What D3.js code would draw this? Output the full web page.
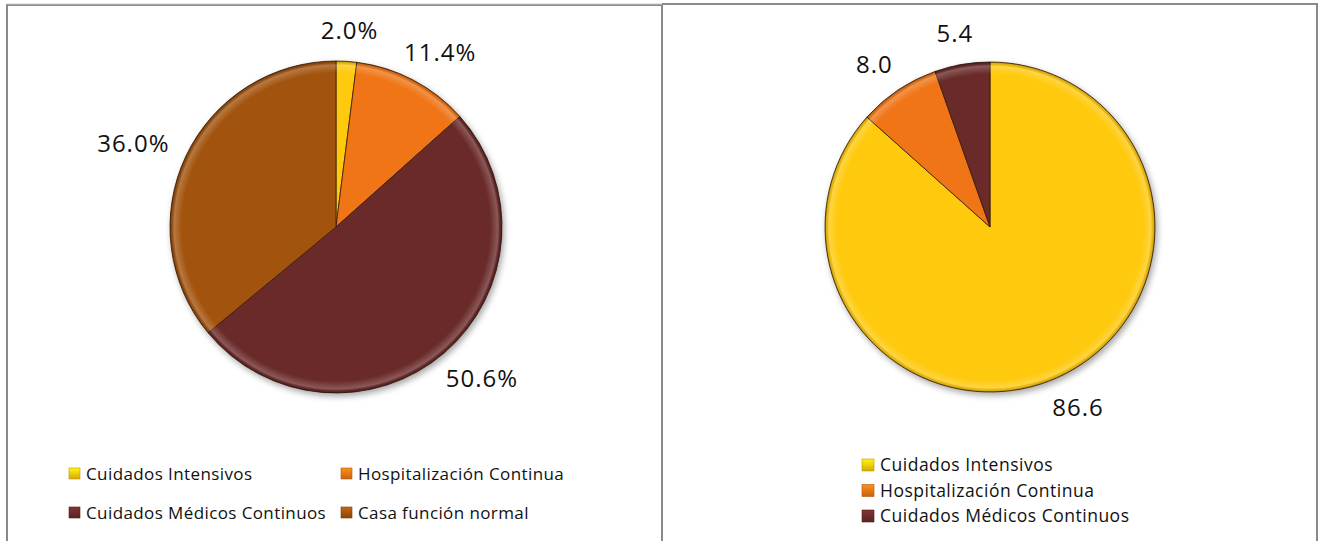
<!DOCTYPE html>
<html><head><meta charset="utf-8">
<script src="https://cdn.jsdelivr.net/npm/d3@7"></script>
<style>body{margin:0;background:#fff;}svg{display:block;}</style>
</head><body>
<svg id="c" width="1324" height="541"></svg>
<script>
const leftCategories = ["Cuidados Intensivos","Hospitalización Continua","Cuidados Médicos Continuos","Casa función normal"];
const leftValues = [2.0, 11.4, 50.6, 36.0];
const leftLabels = ["2.0%","11.4%","50.6%","36.0%"];
const rightCategories = ["Cuidados Intensivos","Hospitalización Continua","Cuidados Médicos Continuos"];
const rightValues = [86.6, 8.0, 5.4];
const rightLabels = ["86.6","8.0","5.4"];
const colorMap = {"Cuidados Intensivos":"#FFC908","Hospitalización Continua":"#EF7512","Cuidados Médicos Continuos":"#6A2A2A","Casa función normal":"#A2520D"};

const svg = d3.select("#c");
const defs = svg.append("defs");
const sh = defs.append("filter").attr("id","sh").attr("x","-20%").attr("y","-20%").attr("width","140%").attr("height","140%");
sh.append("feDropShadow").attr("dx",2).attr("dy",3).attr("stdDeviation",3).attr("flood-color","#000").attr("flood-opacity",0.35);

// panel borders
svg.append("path").attr("d","M7,541 V5 H662 V541").attr("fill","none").attr("stroke","#8a8a8a").attr("stroke-width",2);
svg.append("path").attr("d","M662,4 H1317 V541").attr("fill","none").attr("stroke","#8a8a8a").attr("stroke-width",2);
svg.append("line").attr("x1",7).attr("x2",662).attr("y1",4).attr("y2",4).attr("stroke","#c8c8c8").attr("stroke-width",1);

function drawPie(id, cx, cy, R, cats, vals, labels){
  const g = svg.append("g").attr("transform",`translate(${cx},${cy})`);
  const pie = d3.pie().sort(null).value(d=>d.v);
  const data = pie(cats.map((c,i)=>({c, v:vals[i], l:labels[i]})));
  const arc = d3.arc().innerRadius(0).outerRadius(R);
  const grad = defs.append("radialGradient").attr("id","bev"+id).attr("gradientUnits","userSpaceOnUse")
    .attr("cx",0).attr("cy",0).attr("r",R);
  grad.append("stop").attr("offset",((R-12)/R)).attr("stop-color","#fff").attr("stop-opacity",0);
  grad.append("stop").attr("offset",((R-4)/R)).attr("stop-color","#fff").attr("stop-opacity",0.22);
  grad.append("stop").attr("offset",((R-1.5)/R)).attr("stop-color","#000").attr("stop-opacity",0.12);
  grad.append("stop").attr("offset",1).attr("stop-color","#000").attr("stop-opacity",0.35);
  const sg = g.append("g").attr("filter","url(#sh)");
  sg.selectAll("path.s").data(data).join("path").attr("class","s")
    .attr("d",arc).attr("fill",d=>colorMap[d.data.c])
    .attr("stroke","#3b1d08").attr("stroke-width",0.8).attr("stroke-linejoin","round");
  const ring = d3.arc().innerRadius(R-12).outerRadius(R);
  g.selectAll("path.b").data(data).join("path").attr("class","b")
    .attr("d",ring).attr("fill",`url(#bev${id})`).attr("pointer-events","none");
  // labels outside end
  const gap = 20;
  g.selectAll("text").data(data).join("text")
    .attr("font-family","'Open Sans', sans-serif").attr("font-size",24).attr("fill","#111")
    .attr("letter-spacing",1)
    .attr("text-anchor","middle").attr("dominant-baseline","central")
    .each(function(d){
      const a = (d.startAngle+d.endAngle)/2;
      const s = Math.sin(a), c = Math.cos(a);
      const w = d.data.l.length*7.6, h = 12;
      const x = (R+gap)*s + w*s, y = -(R+gap)*c - h*c;
      d3.select(this).attr("x",x).attr("y",y).text(d.data.l);
    });
}
drawPie("L", 336, 227, 166, leftCategories, leftValues, leftLabels);
drawPie("R", 990, 227, 165, rightCategories, rightValues, rightLabels);

let gid = 0;
function sq(g, x, y, s, col){
  const id = "lg"+(gid++);
  const gr = defs.append("linearGradient").attr("id",id).attr("x1",0).attr("y1",0).attr("x2",0).attr("y2",1);
  gr.append("stop").attr("offset",0).attr("stop-color",d3.color(col).brighter(0.6));
  gr.append("stop").attr("offset",1).attr("stop-color",d3.color(col).darker(0.5));
  g.append("rect").attr("x",x).attr("y",y).attr("width",s).attr("height",s).attr("fill",`url(#${id})`)
   .attr("stroke",d3.color(col).darker(0.8)).attr("stroke-width",0.6);
}
// left legend (2 columns)
const lg = svg.append("g");
const lpos = [[69,480],[341,480],[69,519],[341,519]];
leftCategories.forEach((c,i)=>{
  const [x,y] = lpos[i];
  sq(lg, x, y-12, 11, colorMap[c]);
  lg.append("text").attr("x",x+17).attr("y",y).attr("font-family","'Open Sans', sans-serif").attr("font-size",17).attr("letter-spacing",0.4).attr("fill","#111").text(c);
});
// right legend
const rg = svg.append("g");
rightCategories.forEach((c,i)=>{
  const y = 471 + i*25.5;
  sq(rg, 862, y-12, 12, colorMap[c]);
  rg.append("text").attr("x",880).attr("y",y).attr("font-family","'Open Sans', sans-serif").attr("font-size",17.5).attr("letter-spacing",0.5).attr("fill","#111").text(c);
});
</script>
</body></html>
